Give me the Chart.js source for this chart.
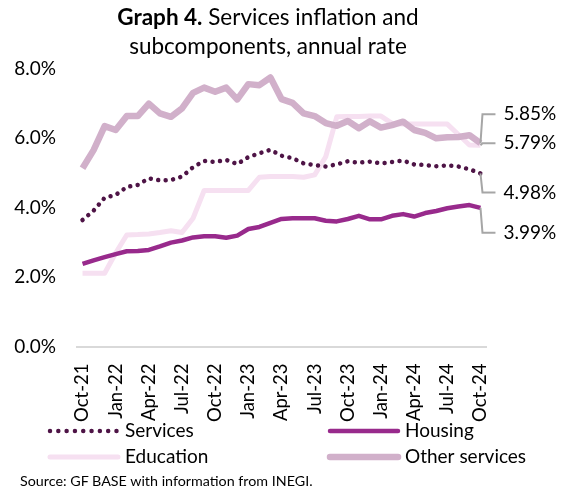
<!DOCTYPE html>
<html>
<head>
<meta charset="utf-8">
<script src="https://cdn.jsdelivr.net/npm/chart.js@4.4.0/dist/chart.umd.min.js"></script>
<style>
  body { margin: 0; background: #fff; }
  #wrap { position: relative; width: 563px; height: 490px; font-family: Lato, sans-serif; color: #000; }
  #chart { position: absolute; left: 0; top: 0; }
  #title { position: absolute; left: 0; top: 2px; width: 536px; text-align: center; font-size: 22.5px; line-height: 29px; }
  #source { position: absolute; left: 20px; top: 472px; font-size: 14.3px; }
</style>
</head>
<body>
<div id="wrap">
  <canvas id="chart" width="563" height="490"></canvas>
  <div id="title"><b>Graph 4.</b> Services inflation and<br>subcomponents, annual rate</div>
  <div id="source">Source: GF BASE with information from INEGI.</div>
</div>
<script>
let months = ["Oct-21", "Nov-21", "Dec-21", "Jan-22", "Feb-22", "Mar-22", "Apr-22", "May-22", "Jun-22",
  "Jul-22", "Aug-22", "Sep-22", "Oct-22", "Nov-22", "Dec-22", "Jan-23", "Feb-23", "Mar-23", "Apr-23",
  "May-23", "Jun-23", "Jul-23", "Aug-23", "Sep-23", "Oct-23", "Nov-23", "Dec-23", "Jan-24", "Feb-24",
  "Mar-24", "Apr-24", "May-24", "Jun-24", "Jul-24", "Aug-24", "Sep-24", "Oct-24"];

// annual rates, %
let services = [3.64, 3.91, 4.28, 4.36, 4.59, 4.65, 4.84, 4.78, 4.79, 4.89, 5.16, 5.34, 5.31, 5.37, 5.25,
  5.45, 5.56, 5.66, 5.49, 5.42, 5.27, 5.22, 5.18, 5.24, 5.33, 5.29, 5.32, 5.27, 5.31, 5.35, 5.24, 5.22,
  5.19, 5.21, 5.18, 5.10, 4.98];
let housing = [2.38, 2.48, 2.57, 2.66, 2.74, 2.75, 2.78, 2.88, 2.99, 3.05, 3.14, 3.17, 3.17, 3.13, 3.19,
  3.38, 3.44, 3.56, 3.67, 3.69, 3.69, 3.69, 3.62, 3.60, 3.67, 3.76, 3.66, 3.66, 3.76, 3.81, 3.74, 3.84,
  3.90, 3.98, 4.03, 4.07, 3.99];
let education = [2.11, 2.11, 2.11, 2.69, 3.21, 3.22, 3.24, 3.28, 3.33, 3.28, 3.69, 4.49, 4.49, 4.49, 4.49,
  4.49, 4.87, 4.89, 4.89, 4.89, 4.87, 4.94, 5.46, 6.61, 6.62, 6.62, 6.63, 6.63, 6.42, 6.40, 6.40, 6.40,
  6.40, 6.40, 6.10, 5.80, 5.79];
let otherServices = [5.13, 5.65, 6.34, 6.23, 6.63, 6.63, 6.99, 6.71, 6.61, 6.85, 7.30, 7.45, 7.33, 7.45, 7.11,
  7.55, 7.52, 7.74, 7.12, 7.01, 6.71, 6.63, 6.43, 6.35, 6.49, 6.28, 6.48, 6.30, 6.37, 6.47, 6.23, 6.15,
  5.99, 6.02, 6.03, 6.08, 5.85];

let yTicks = [0, 2, 4, 6, 8];

Chart.defaults.font.family = "Lato";
Chart.defaults.color = "#000";

// last-value labels with grey leader lines
const labelOffsets = { "Services": 19, "Housing": 25, "Education": -2, "Other services": -29 };
const endLabels = {
  id: "endLabels",
  afterDatasetsDraw(chart) {
    const ctx = chart.ctx;
    ctx.save();
    ctx.font = "19px Lato";
    ctx.fillStyle = "#000";
    ctx.textBaseline = "middle";
    ctx.strokeStyle = "#a6a6a6";
    ctx.lineWidth = 2;
    chart.data.datasets.forEach((ds, i) => {
      const last = ds.data.length - 1;
      const pt = chart.getDatasetMeta(i).data[last];
      const ly = pt.y + labelOffsets[ds.label];
      ctx.beginPath();
      ctx.moveTo(pt.x, pt.y);
      ctx.lineTo(pt.x + 2, ly);
      ctx.lineTo(pt.x + 15, ly);
      ctx.stroke();
      ctx.fillText(ds.data[last].toFixed(2) + "%", pt.x + 23, ly);
    });
    ctx.restore();
  },
};

// two-column legend under the axis
const legendGrid = {
  id: "legendGrid",
  afterDraw(chart) {
    const ctx = chart.ctx;
    const slots = [[48, 431], [328, 431], [48, 457], [328, 457]];
    chart.data.datasets.forEach((ds, i) => {
      const [x, y] = slots[i];
      ctx.save();
      ctx.strokeStyle = ds.borderColor;
      ctx.lineWidth = ds.borderWidth;
      ctx.lineCap = "round";
      if (ds.borderDash) ctx.setLineDash([0.01, 8.3]);
      ctx.beginPath();
      ctx.moveTo(x + 2, y);
      ctx.lineTo(x + 70, y);
      ctx.stroke();
      ctx.setLineDash([]);
      ctx.font = "19px Lato";
      ctx.fillStyle = "#000";
      ctx.textBaseline = "middle";
      ctx.fillText(ds.label, x + 77, y);
      ctx.restore();
    });
  },
};

new Chart("chart", {
  type: "line",
  data: {
    labels: months,
    datasets: [
      {
        label: "Services",
        data: services,
        borderColor: "#4e1446",
        borderWidth: 4.5,
        borderDash: [0.01, 7.5],
        borderCapStyle: "round",
        order: 0,
      },
      {
        label: "Housing",
        data: housing,
        borderColor: "#982a8c",
        borderWidth: 4.5,
        order: 1,
      },
      {
        label: "Education",
        data: education,
        borderColor: "#f6e0f1",
        borderWidth: 5,
        order: 3,
      },
      {
        label: "Other services",
        data: otherServices,
        borderColor: "#d1b0ca",
        borderWidth: 6.5,
        order: 2,
      },
    ],
  },
  options: {
    responsive: false,
    animation: false,
    layout: { padding: { top: 68.5, left: 10, right: 77, bottom: 50 } },
    elements: {
      point: { radius: 0 },
      line: { tension: 0, borderJoinStyle: "round", fill: false },
    },
    plugins: {
      legend: { display: false },
      tooltip: { enabled: false },
    },
    scales: {
      x: {
        offset: true,
        grid: { display: false, drawTicks: false, tickLength: 0 },
        border: { display: true, color: "#d9d9d9", width: 2 },
        ticks: {
          autoSkip: false,
          minRotation: 90,
          maxRotation: 90,
          padding: 17,
          font: { size: 18.5 },
          callback: function (v, i) {
            return i % 3 === 0 ? this.getLabelForValue(v) : "";
          },
        },
        afterFit: (scale) => { scale.height = 490 - 50 - 346.5; },
      },
      y: {
        min: yTicks[0],
        max: yTicks[yTicks.length - 1],
        grid: { display: false, drawTicks: false, tickLength: 0 },
        border: { display: false },
        afterBuildTicks: (scale) => { scale.ticks = yTicks.map((v) => ({ value: v })); },
        ticks: {
          padding: 21,
          font: { size: 19 },
          callback: (v) => v.toFixed(1) + "%",
        },
        afterFit: (scale) => { scale.width = 67; },
      },
    },
  },
  plugins: [endLabels, legendGrid],
});
</script>
</body>
</html>
